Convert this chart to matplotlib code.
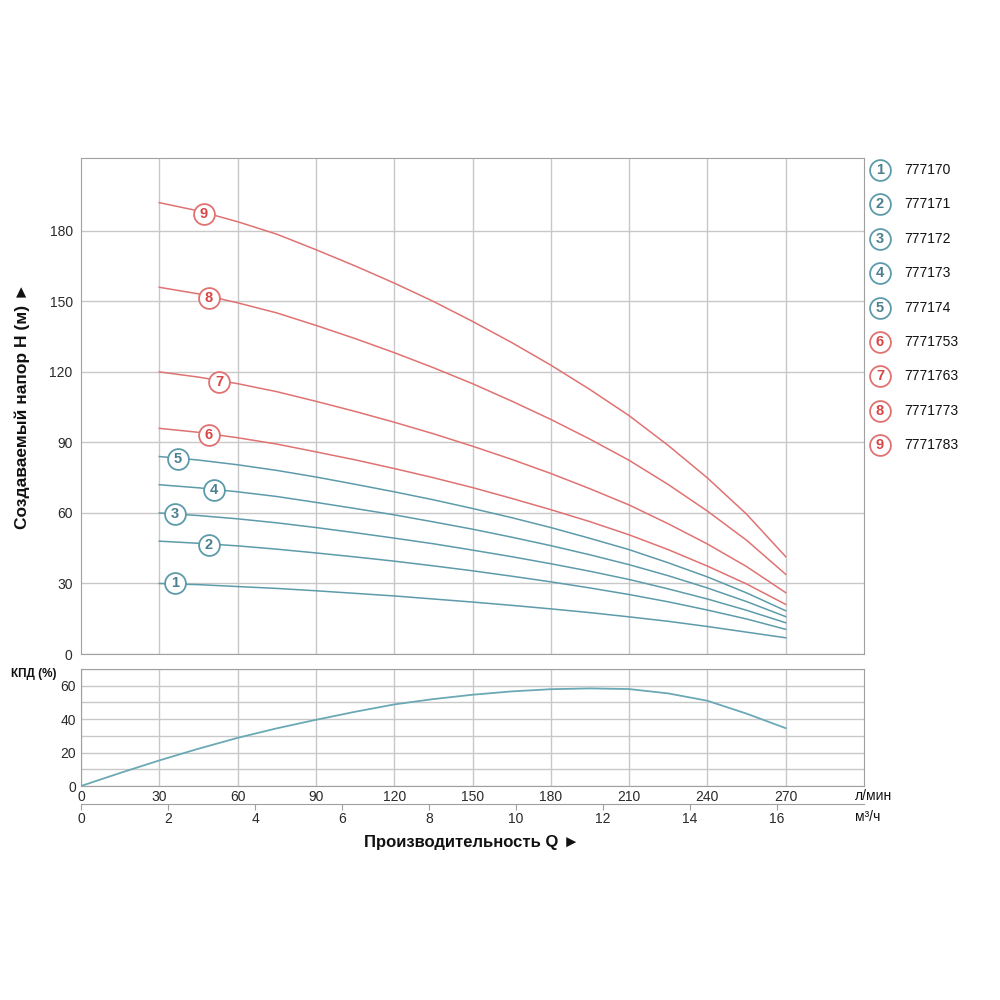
import numpy as np
import matplotlib.pyplot as plt

plt.rcParams['font.family'] = ['Liberation Sans', 'DejaVu Sans']

# flow, l/min
q = [30, 45, 60, 75, 90, 105, 120, 135, 150, 165, 180, 195, 210, 225, 240, 255, 270]

# head curves, m
h1 = [30.0, 29.5, 28.7, 27.9, 26.9, 25.8, 24.7, 23.4, 22.1, 20.7, 19.2, 17.6, 15.8, 13.9, 11.7, 9.3, 6.9]
h2 = [48.0, 47.1, 46.0, 44.6, 43.0, 41.3, 39.5, 37.5, 35.4, 33.1, 30.7, 28.1, 25.3, 22.2, 18.7, 14.9, 10.5]
h3 = [60.0, 58.9, 57.5, 55.8, 53.8, 51.6, 49.3, 46.9, 44.2, 41.4, 38.4, 35.2, 31.7, 27.7, 23.4, 18.6, 13.3]
h4 = [72.0, 70.7, 69.0, 67.0, 64.5, 61.9, 59.2, 56.2, 53.1, 49.7, 46.1, 42.2, 38.0, 33.3, 28.1, 22.3, 15.9]
h5 = [84.0, 82.5, 80.5, 78.1, 75.3, 72.2, 69.0, 65.6, 61.9, 58.0, 53.8, 49.2, 44.4, 38.8, 32.8, 26.0, 18.4]
h6 = [96.0, 94.3, 92.0, 89.3, 86.0, 82.6, 78.9, 75.0, 70.8, 66.2, 61.4, 56.3, 50.7, 44.4, 37.4, 29.8, 21.1]
h7 = [120.0, 117.8, 115.0, 111.6, 107.5, 103.2, 98.6, 93.7, 88.4, 82.8, 76.8, 70.3, 63.4, 55.4, 46.8, 37.2, 26.1]
h8 = [156.0, 153.2, 149.4, 145.1, 139.8, 134.2, 128.2, 121.8, 115.0, 107.6, 99.8, 91.4, 82.4, 72.1, 60.8, 48.4, 33.9]
h9 = [192.0, 188.5, 183.9, 178.6, 172.0, 165.1, 157.8, 150.0, 141.5, 132.5, 122.9, 112.5, 101.4, 88.7, 74.9, 59.5, 41.4]
heads = [h1, h2, h3, h4, h5, h6, h7, h8, h9]

models = ['777170', '777171', '777172', '777173', '777174',
          '7771753', '7771763', '7771773', '7771783']

# where the numbered circles sit on each curve
label_q = [36, 49, 36, 51, 37, 49, 53, 49, 47]
label_h = [30.2, 46.4, 59.6, 69.8, 83.0, 93.2, 115.7, 151.5, 187.0]

# efficiency curve
q_eff = [0, 15, 30, 45, 60, 75, 90, 105, 120, 135, 150, 165, 180, 195, 210, 225, 240, 255, 270]
eff = [0, 7.8, 15.3, 22.3, 28.8, 34.5, 39.6, 44.4, 48.8, 52.0, 54.6, 56.6, 57.9, 58.4, 58.0, 55.4, 51.0, 43.3, 34.6]

blue_line, blue_text = '#5d9bab', '#4a7f8f'
red_line, red_text = '#e07272', '#d94545'
grid_c = '#c8c8c8'
spine_c = '#a0a0a0'
txt_c = '#2a2a2a'

fig = plt.figure(figsize=(10, 10), dpi=100)
ax = fig.add_axes([0.081, 0.346, 0.783, 0.496])
ax_e = fig.add_axes([0.081, 0.214, 0.783, 0.117])

# --- head chart ---
ax.set_xlim(0, 300)
ax.set_ylim(0, 211)
ax.set_xticks(range(30, 271, 30))
ax.set_xticklabels([])
ax.set_yticks(range(0, 181, 30))
ax.tick_params(length=0, labelsize=10, labelcolor=txt_c, pad=6)
ax.grid(True, color=grid_c, lw=1)
for s in ax.spines.values():
    s.set_color(spine_c)

for i, h in enumerate(heads):
    lc = blue_line if i < 5 else red_line
    tc = blue_text if i < 5 else red_text
    ax.plot(q, h, color=lc, lw=1.1, zorder=3)
    ax.plot(label_q[i], label_h[i], 'o', ms=15, mfc='white', mec=lc, mew=1.3, zorder=4)
    ax.text(label_q[i], label_h[i], str(i + 1), color=tc, fontsize=10.5, fontweight='bold',
            ha='center', va='center', zorder=5)

ax.set_ylabel('Создаваемый напор H (м) ►', fontsize=12.5, fontweight='bold', color='#111111')
ax.yaxis.set_label_coords(-0.065, 0.5)

# legend on the right
for i, m in enumerate(models):
    lc = blue_line if i < 5 else red_line
    tc = blue_text if i < 5 else red_text
    y = 1 - (170 + i * 34.4) / 1000
    ax.plot(0.880, y, 'o', ms=15, mfc='white', mec=lc, mew=1.3,
            transform=fig.transFigure, clip_on=False)
    fig.text(0.880, y, str(i + 1), color=tc, fontsize=10.5, fontweight='bold',
             ha='center', va='center')
    fig.text(0.904, y, m, color='#111111', fontsize=10, ha='left', va='center')

# --- efficiency chart ---
ax_e.set_xlim(0, 300)
ax_e.set_ylim(0, 70)
ax_e.set_xticks(range(0, 271, 30))
ax_e.set_yticks([0, 20, 40, 60])
ax_e.set_yticks([10, 30, 50, 70], minor=True)
ax_e.tick_params(which='both', length=0, labelsize=10, labelcolor=txt_c)
ax_e.tick_params(axis='x', pad=3)
ax_e.grid(True, which='both', color=grid_c, lw=1)
for s in ax_e.spines.values():
    s.set_color(spine_c)
ax_e.plot(q_eff, eff, color='#6aa9b5', lw=1.3, zorder=3)
fig.text(0.011, 1 - 0.674, 'КПД (%)', fontsize=8.5, fontweight='bold', color='#111111', va='center')

# secondary flow axis in m3/h
sec = ax_e.secondary_xaxis(-0.154, functions=(lambda x: x * 0.06, lambda x: x / 0.06))
sec.set_xticks(range(0, 17, 2))
sec.tick_params(length=4, color=spine_c, labelsize=10, labelcolor=txt_c, pad=2)
sec.spines['bottom'].set_color(spine_c)

fig.text(0.855, 1 - 0.796, 'л/мин', fontsize=10, color='#111111', va='center')
fig.text(0.855, 1 - 0.817, 'м³/ч', fontsize=10, color='#111111', va='center')

fig.text(0.472, 1 - 0.843, 'Производительность Q ►', fontsize=12, fontweight='bold',
         color='#111111', ha='center', va='center')

fig.savefig('out.png', dpi=100, facecolor='white')
